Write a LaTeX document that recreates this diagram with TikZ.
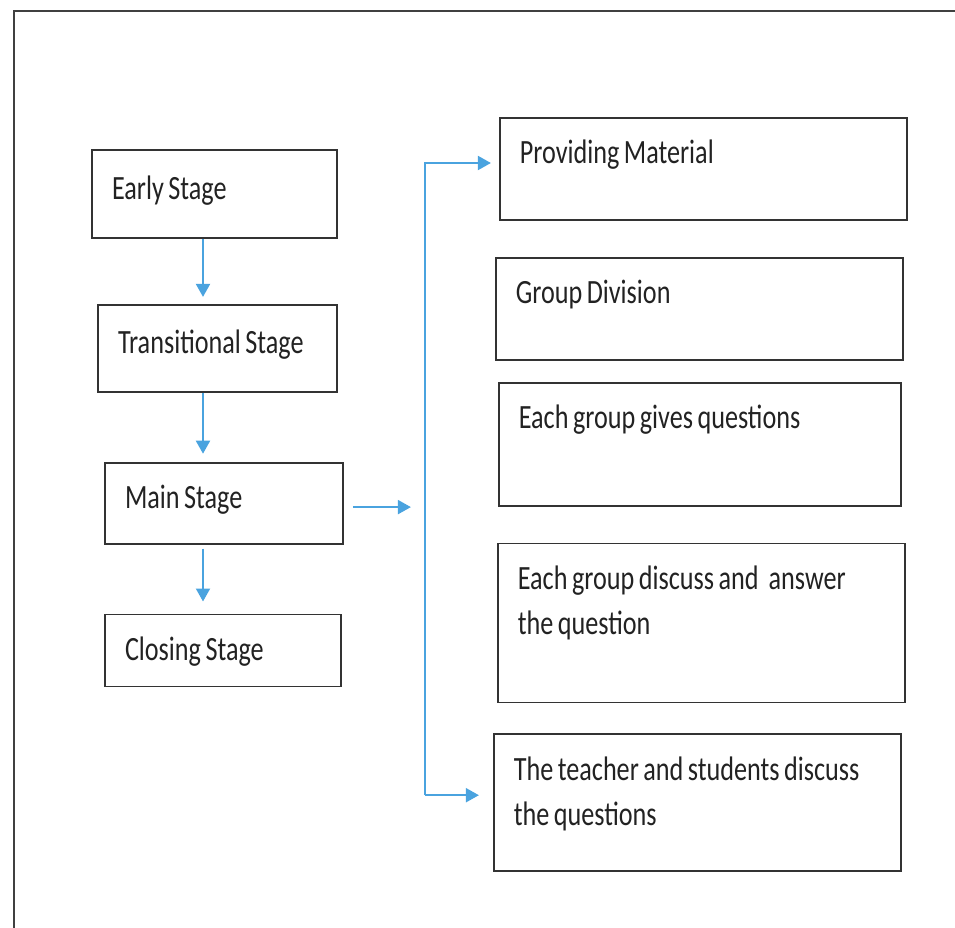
\documentclass[tikz,border=0pt]{standalone}
\usepackage{fontspec}
\setmainfont[FakeStretch=0.77]{Carlito}
\usetikzlibrary{arrows.meta,positioning,calc}
\definecolor{flow}{HTML}{4AA3DF}
\definecolor{ink}{HTML}{222222}

\begin{document}
\begin{tikzpicture}[
      font=\fontsize{34}{45}\selectfont,text=ink,
      box/.style={draw=black!80,line width=1.8pt,align=left,inner xsep=20pt,
                  execute at begin node={\spaceskip=4.5pt plus 1pt\relax}},
      stage/.style={box,text height=25pt,text depth=14pt},
      task/.style={box,inner ysep=21pt,text height=25pt,text width=367pt},
      arr/.style={-{Triangle[length=13pt,width=14pt]},draw=flow,line width=2pt}]
    \useasboundingbox (0pt,0pt) rectangle (955pt,-928pt);
    \draw[black!75,line width=2pt] (14pt,-928pt)--(14pt,-11pt)--(955pt,-11pt);
    % stages
    \node[stage,text width=205pt,minimum height=88pt] (early) at (214.5pt,-194pt) {Early Stage};
    \node[stage,text width=199pt,minimum height=87pt,below=65pt of early,xshift=3pt] (trans) {Transitional Stage};
    \node[stage,text width=198pt,minimum height=81pt,below=69pt of trans,xshift=6.5pt] (main) {Main Stage};
    \node[stage,text width=196pt,minimum height=72pt,text depth=5pt,below=69pt of main,xshift=-1pt] (closing) {Closing Stage};
    % main stage steps
    \node[task,text depth=35pt,anchor=north west] (mat) at ([shift={(161pt,32pt)}]early.north east) {Providing Material};
    \node[task,text depth=35pt,below=36pt of mat.south west,anchor=north west,xshift=-4pt] (grp) {Group Division};
    \node[task,text depth=56pt,text width=362pt,below=21pt of grp.south west,anchor=north west,xshift=3pt] (ques) {Each group gives questions};
    \node[task,text depth=92pt,below=36pt of ques.south west,anchor=north west,xshift=-1pt] (disc) {Each group discuss and\hspace{10pt}answer\\the question};
    \node[task,text depth=70pt,below=30pt of disc.south west,anchor=north west,xshift=-4pt] (teach) {The teacher and students discuss\\the questions};
    \coordinate (hub) at ([shift={(67pt,-4pt)}]main.east);
    \coordinate (bus) at ([xshift=81pt]main.east);
    \draw[arr,shorten >=7pt] ([xshift=-11.5pt]early.south) -- ([xshift=-11.5pt]early.south |- trans.north);
    \draw[arr,shorten >=8pt] ([xshift=-14.5pt]trans.south) -- ([xshift=-14.5pt]trans.south |- main.north);
    \draw[arr,shorten <=4pt,shorten >=12pt] ([xshift=-21pt]main.south) -- ([xshift=-21pt]main.south |- closing.north);
    \draw[arr,shorten <=9pt] ([yshift=-4pt]main.east) -- (hub);
    \draw[arr,shorten >=8pt] ([yshift=7.5pt]teach.west -| bus) -- ([yshift=6pt]mat.west -| bus) -- ([yshift=6pt]mat.west);
    \draw[arr,shorten >=14pt] ([yshift=7.5pt]teach.west -| bus) -- ([yshift=7.5pt]teach.west);
  \end{tikzpicture}
\end{document}
